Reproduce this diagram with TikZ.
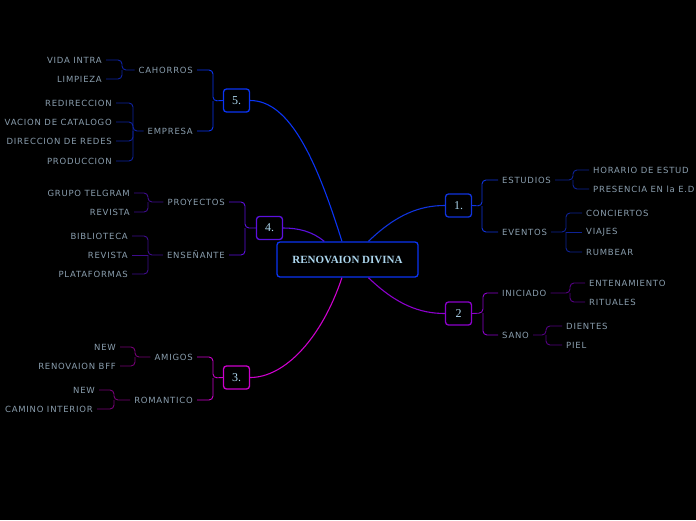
\documentclass[tikz,border=0pt]{standalone}
\usepackage{fontspec}
\newfontfamily\ramafont[LetterSpace=9]{DejaVu Sans}
\newfontfamily\centrofont{Liberation Serif}
\usetikzlibrary{positioning}
\definecolor{TextoRama}{RGB}{138,158,174}
\definecolor{TextoCentral}{RGB}{172,214,238}
\definecolor{RamaUno}{RGB}{16,52,222}
\definecolor{RamaUnoOsc}{RGB}{14,34,150}
\definecolor{RamaDos}{RGB}{140,0,204}
\definecolor{RamaDosOsc}{RGB}{84,0,130}
\definecolor{RamaTres}{RGB}{204,0,204}
\definecolor{RamaTresOsc}{RGB}{118,0,118}
\definecolor{RamaCuatro}{RGB}{92,16,222}
\definecolor{RamaCuatroOsc}{RGB}{62,12,140}
\definecolor{RamaCinco}{RGB}{10,52,244}
\definecolor{RamaCincoOsc}{RGB}{14,34,160}
\tikzset{
  central/.style={draw=RamaCinco, line width=1.3pt, rounded corners=3pt, fill=black,
                text=TextoCentral, font=\centrofont\bfseries\fontsize{11}{12}\selectfont,
                minimum width=141pt, minimum height=35pt, inner sep=0pt},
  numero/.style={line width=1.3pt, rounded corners=3pt, fill=black, text=TextoCentral,
                font=\centrofont\fontsize{12}{13}\selectfont,
                minimum width=26pt, minimum height=23pt, inner sep=0pt},
  rama/.style={text=TextoRama, font=\ramafont\fontsize{8.5}{10}\selectfont,
                inner xsep=4pt, inner ysep=1pt},
  hojader/.style={rama, anchor=west},
  hojaizq/.style={rama, anchor=east},
  enlace/.style={line width=0.9pt, rounded corners=4pt},
  tronco/.style={line width=1.1pt},
}

\begin{document}
\begin{tikzpicture}[x=1pt,y=-1pt]

  \fill[black] (0,0) rectangle (696,520);
  \useasboundingbox (0,0) rectangle (696,520);

  \node[central] (centro) at (347.5,259.5) {RENOVAION DIVINA};

  \node[numero,draw=RamaUno]    (uno)    at (458.5,205.5) {1.};
  \node[numero,draw=RamaDos]    (dos)    at (458.5,313.5) {2};
  \node[numero,draw=RamaTres]   (tres)   at (236.5,377.5) {3.};
  \node[numero,draw=RamaCuatro] (cuatro) at (269.5,228)   {4.};
  \node[numero,draw=RamaCinco]  (cinco)  at (236.5,100.5) {5.};

  % rama 1
  \coordinate (b1)  at (482,206);
  \coordinate (b1a) at (573,180);
  \coordinate (b1b) at (566,232);
  \node[hojader] (estudios)   at (498,180) {ESTUDIOS};
  \node[hojader] (eventos)    at (498,232) {EVENTOS};
  \node[hojader] (horario)    at (589,170) {HORARIO DE ESTUD};
  \node[hojader] (presencia)  at (589,189) {PRESENCIA EN la E.D};
  \node[hojader] (conciertos) at (582,213) {CONCIERTOS};
  \node[hojader] (viajes)     at (582,232) {VIAJES};
  \node[hojader] (rumbear)    at (582,252) {RUMBEAR};

  % rama 2
  \coordinate (b2)  at (483,313);
  \coordinate (b2a) at (570,293);
  \coordinate (b2b) at (546,335);
  \node[hojader] (iniciado)     at (498,293) {INICIADO};
  \node[hojader] (sano)         at (498,335) {SANO};
  \node[hojader] (entenamiento) at (585,283) {ENTENAMIENTO};
  \node[hojader] (rituales)     at (585,302) {RITUALES};
  \node[hojader] (dientes)      at (562,326) {DIENTES};
  \node[hojader] (piel)         at (562,345) {PIEL};

  % rama 3
  \coordinate (b3)  at (213,378);
  \coordinate (b3a) at (135,357);
  \coordinate (b3b) at (114,400);
  \node[hojaizq] (amigos)    at (197,357) {AMIGOS};
  \node[hojaizq] (romantico) at (197,400) {ROMANTICO};
  \node[hojaizq] (nuevoa)    at (120,347) {NEW};
  \node[hojaizq] (bff)       at (120,366) {RENOVAION BFF};
  \node[hojaizq] (nuevob)    at (99,390)  {NEW};
  \node[hojaizq] (camino)    at (97,409)  {CAMINO INTERIOR};

  % rama 4
  \coordinate (b4)  at (245,228);
  \coordinate (b4a) at (148,202);
  \coordinate (b4b) at (148,255);
  \node[hojaizq] (proyectos)   at (229,202) {PROYECTOS};
  \node[hojaizq] (ensenante)   at (229,255) {ENSEÑANTE};
  \node[hojaizq] (telgram)     at (134,193) {GRUPO TELGRAM};
  \node[hojaizq] (revistaa)    at (134,212) {REVISTA};
  \node[hojaizq] (biblioteca)  at (132,236) {BIBLIOTECA};
  \node[hojaizq] (revistab)    at (132,255) {REVISTA};
  \node[hojaizq] (plataformas) at (132,274) {PLATAFORMAS};

  % rama 5
  \coordinate (b5)  at (213,101);
  \coordinate (b5a) at (122,70);
  \coordinate (b5b) at (133,131);
  \node[hojaizq] (cahorros)    at (197,70)  {CAHORROS};
  \node[hojaizq] (empresa)     at (197,131) {EMPRESA};
  \node[hojaizq] (vida)        at (106,60)  {VIDA INTRA};
  \node[hojaizq] (limpieza)    at (106,79)  {LIMPIEZA};
  \node[hojaizq] (redireccion) at (116,103) {REDIRECCION};
  \node[hojaizq] (catalogo)    at (116,122) {VACION DE CATALOGO};
  \node[hojaizq] (redes)       at (116,141) {DIRECCION DE REDES};
  \node[hojaizq] (produccion)  at (116,161) {PRODUCCION};

  % troncos
  \draw[tronco,RamaUno]    (centro.41)   .. controls +(28,-27) and +(-25,0) .. (uno.west);
  \draw[tronco,RamaDos]    (centro.-41)  .. controls +(28,27) and +(-25,0) .. (dos.west);
  \draw[tronco,RamaTres]   (centro.-107) .. controls +(-20,60) and +(35,0) .. (tres.east);
  \draw[tronco,RamaCuatro] (centro.142)  .. controls +(-12,-10) and +(15,0) .. (cuatro.east);
  \draw[tronco,RamaCinco]  (centro.107)  .. controls +(-25,-80) and +(40,0) .. (cinco.east);

  \draw[enlace,RamaUno] (uno.east) -- (b1) |- (estudios.west);
  \draw[enlace,RamaUno] (b1) |- (eventos.west);
  \draw[enlace,RamaUnoOsc] (estudios.east) -- (b1a) |- (horario.west);
  \draw[enlace,RamaUnoOsc] (b1a) |- (presencia.west);
  \draw[enlace,RamaUnoOsc] (eventos.east) -- (b1b) |- (conciertos.west);
  \draw[enlace,RamaUnoOsc] (b1b) -- (viajes.west);
  \draw[enlace,RamaUnoOsc] (b1b) |- (rumbear.west);

  \draw[enlace,RamaDos] (dos.east) -- (b2) |- (iniciado.west);
  \draw[enlace,RamaDos] (b2) |- (sano.west);
  \draw[enlace,RamaDosOsc] (iniciado.east) -- (b2a) |- (entenamiento.west);
  \draw[enlace,RamaDosOsc] (b2a) |- (rituales.west);
  \draw[enlace,RamaDosOsc] (sano.east) -- (b2b) |- (dientes.west);
  \draw[enlace,RamaDosOsc] (b2b) |- (piel.west);

  \draw[enlace,RamaTres] (tres.west) -- (b3) |- (amigos.east);
  \draw[enlace,RamaTres] (b3) |- (romantico.east);
  \draw[enlace,RamaTresOsc] (amigos.west) -- (b3a) |- (nuevoa.east);
  \draw[enlace,RamaTresOsc] (b3a) |- (bff.east);
  \draw[enlace,RamaTresOsc] (romantico.west) -- (b3b) |- (nuevob.east);
  \draw[enlace,RamaTresOsc] (b3b) |- (camino.east);

  \draw[enlace,RamaCuatro] (cuatro.west) -- (b4) |- (proyectos.east);
  \draw[enlace,RamaCuatro] (b4) |- (ensenante.east);
  \draw[enlace,RamaCuatroOsc] (proyectos.west) -- (b4a) |- (telgram.east);
  \draw[enlace,RamaCuatroOsc] (b4a) |- (revistaa.east);
  \draw[enlace,RamaCuatroOsc] (ensenante.west) -- (b4b) |- (biblioteca.east);
  \draw[enlace,RamaCuatroOsc] (b4b) -- (revistab.east);
  \draw[enlace,RamaCuatroOsc] (b4b) |- (plataformas.east);

  \draw[enlace,RamaCinco] (cinco.west) -- (b5) |- (cahorros.east);
  \draw[enlace,RamaCinco] (b5) |- (empresa.east);
  \draw[enlace,RamaCincoOsc] (cahorros.west) -- (b5a) |- (vida.east);
  \draw[enlace,RamaCincoOsc] (b5a) |- (limpieza.east);
  \draw[enlace,RamaCincoOsc] (empresa.west) -- (b5b) |- (redireccion.east);
  \draw[enlace,RamaCincoOsc] (b5b) |- (catalogo.east);
  \draw[enlace,RamaCincoOsc] (b5b) |- (redes.east);
  \draw[enlace,RamaCincoOsc] (b5b) |- (produccion.east);

\end{tikzpicture}
\end{document}
